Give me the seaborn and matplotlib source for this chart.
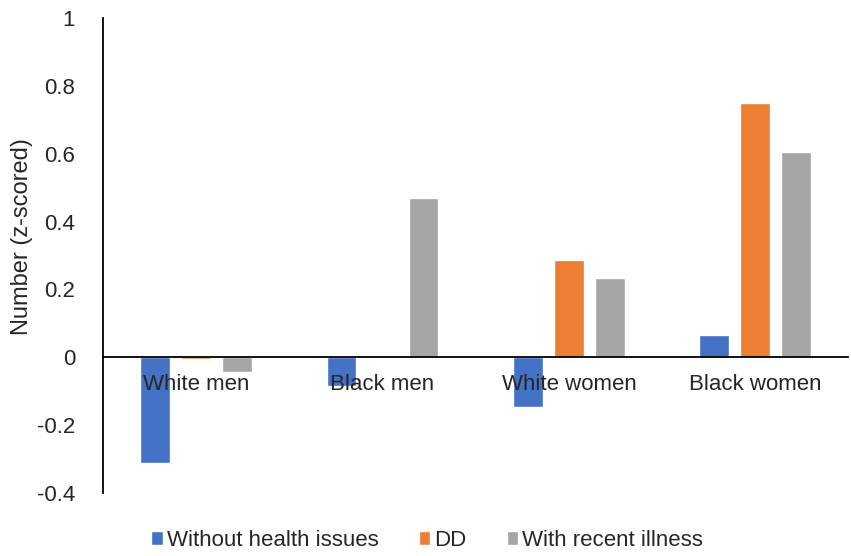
import numpy as np
import pandas as pd
import matplotlib
matplotlib.use("Agg")
import matplotlib.pyplot as plt
import seaborn as sns

# ── data ──────────────────────────────────────────────────────────────────────
groups = ["White men", "Black men", "White women", "Black women"]
series = ["Without health issues", "DD", "With recent illness"]
without_health = [-0.312, -0.083, -0.147, 0.065]
dd = [-0.005, 0.0, 0.286, 0.750]
recent_illness = [-0.042, 0.469, 0.233, 0.606]
colors = ["#4472C4", "#ED7D31", "#A5A5A5"]
yticks = [-0.4, -0.2, 0, 0.2, 0.4, 0.6, 0.8, 1]

df = pd.DataFrame({
    "group": groups * 3,
    "series": np.repeat(series, len(groups)),
    "value": without_health + dd + recent_illness,
})

sns.set_theme(style="white")
plt.rcParams["font.family"] = ["Liberation Sans", "DejaVu Sans"]

FS = 16

fig = plt.figure(figsize=(8.51, 5.56), dpi=100)
ax = fig.add_axes([0.121, 0.113, 0.876, 0.855])

sns.barplot(data=df, x="group", y="value", hue="series", order=groups,
            hue_order=series, palette=colors, width=0.66, gap=0.27,
            saturation=1, ax=ax, legend=True)

ax.set_ylim(-0.4, 1)
ax.set_xlim(-0.5, 3.5)
ax.set_yticks(yticks)
ax.set_yticklabels([f"{t:g}" for t in yticks], fontsize=FS)
ax.set_ylabel("Number (z-scored)", fontsize=FS + 1)
ax.yaxis.set_label_coords(-0.094, 0.54)
ax.set_xlabel("")

# zero line acts as the category axis; labels sit on top of the bars
ax.set_axisbelow(False)
for s in ["top", "right"]:
    ax.spines[s].set_visible(False)
ax.spines["bottom"].set_position(("data", 0))
for s in ["left", "bottom"]:
    ax.spines[s].set_color("black")
    ax.spines[s].set_linewidth(1.3)
ax.tick_params(axis="x", length=0, pad=12, labelsize=FS)
ax.tick_params(axis="y", length=0, pad=20)

ax.legend(loc="upper center", bbox_to_anchor=(0.435, -0.035), ncol=3,
          frameon=False, fontsize=FS, handlelength=0.5, handleheight=0.6,
          handletextpad=0.2, columnspacing=1.8)

fig.savefig("out.png", dpi=100)
